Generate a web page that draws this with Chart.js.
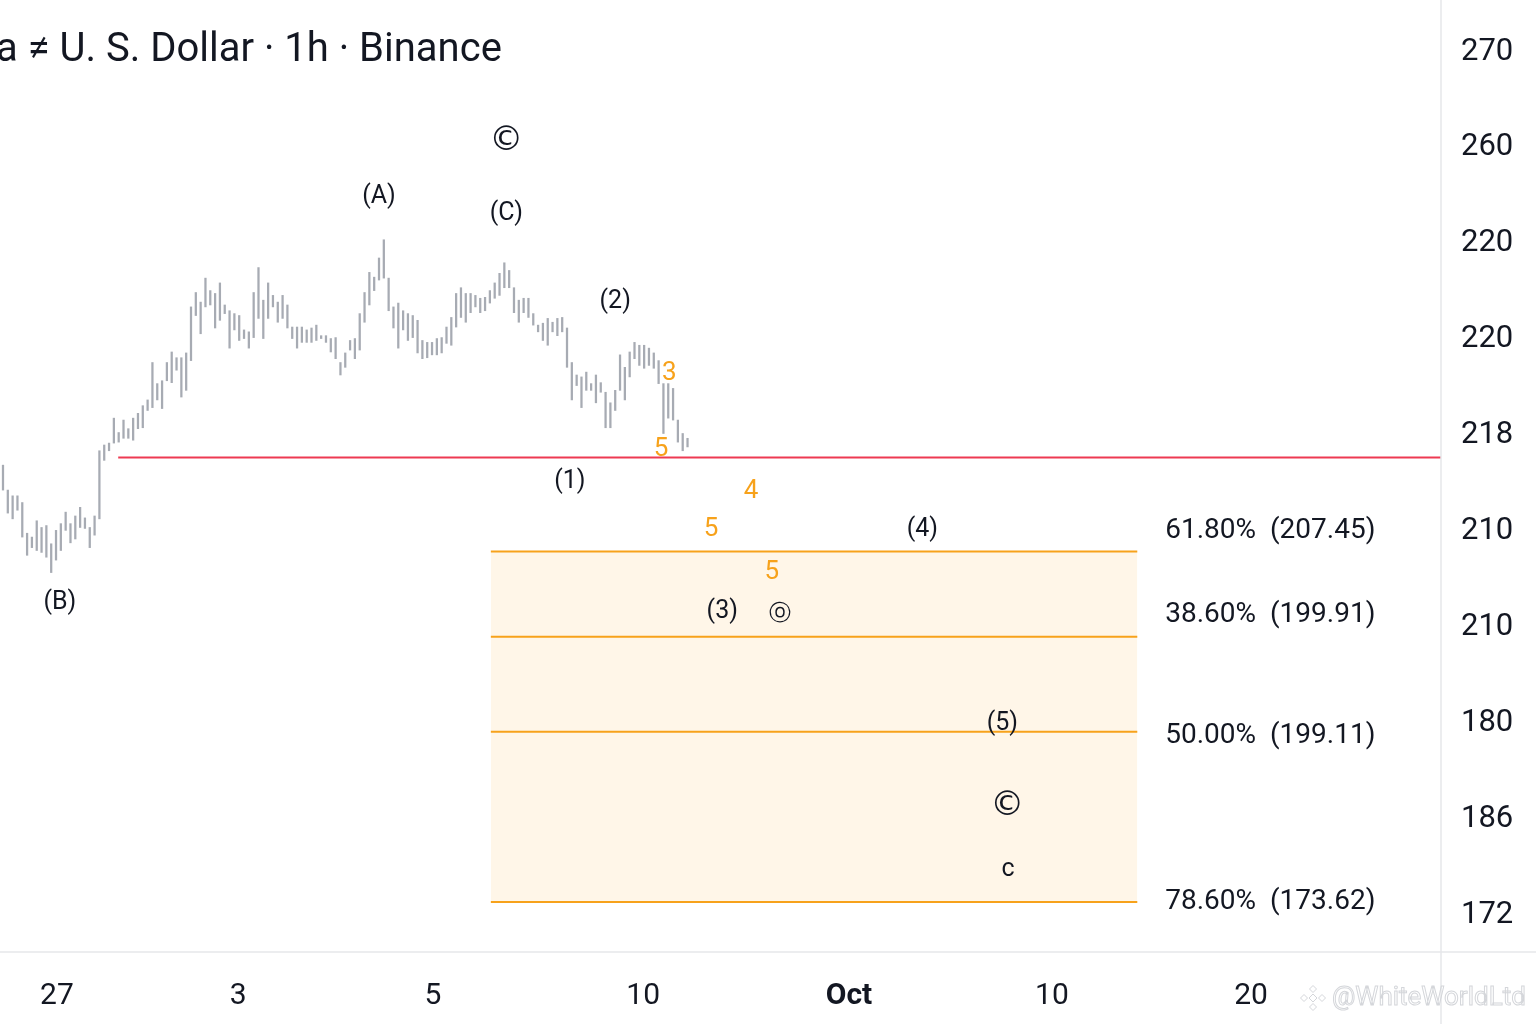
<!DOCTYPE html>
<html lang="en">
<head>
<meta charset="UTF-8">
<title>Elliott wave chart</title>
<style>
  html, body { margin: 0; padding: 0; background: #ffffff; }
  #wrap { width: 1536px; height: 1024px; }
</style>
</head>
<body>
<div id="wrap"><canvas id="chart" width="1536" height="1024"></canvas></div>
<script src="https://cdn.jsdelivr.net/npm/chart.js"></script>
<script>
// hourly bars, high / low (chart units, one tick step = 10)
const barHigh = [46.9,44.3,43.7,43.7,43.0,39.8,39.4,41.1,40.4,40.6,38.7,40.1,40.8,42.0,40.8,41.6,42.5,41.4,40.4,41.6,
  48.4,49.0,49.2,51.8,50.3,51.6,50.7,51.8,52.3,53.1,53.7,57.6,55.4,55.7,57.6,58.7,58.1,58.1,58.6,63.4,
  64.9,63.9,66.4,65.1,64.8,65.9,63.6,63.0,62.7,62.5,61.0,60.8,64.9,67.5,64.1,65.9,64.6,63.9,64.6,63.6,
  61.3,61.3,61.3,61.0,61.2,61.5,60.4,60.4,60.1,60.2,57.6,58.6,59.9,60.1,62.7,64.9,67.0,66.5,68.5,70.4,
  66.4,63.4,63.8,63.0,62.7,62.5,62.0,59.9,59.7,59.7,60.1,60.2,61.3,62.3,64.8,65.4,64.8,64.8,64.6,64.3,
  64.4,65.1,65.9,66.9,68.0,67.2,65.4,64.1,64.3,64.3,62.7,61.5,61.7,62.2,61.8,62.2,62.3,61.2,57.6,56.3,
  56.1,56.6,55.4,56.3,55.5,54.5,53.4,54.7,58.4,57.1,58.7,59.7,59.4,59.4,59.1,58.6,57.8,55.4,55.4,54.9,
  51.6,50.2,49.7];
const barLow = [44.3,41.9,41.3,42.2,39.4,37.5,38.3,38.0,37.8,37.3,35.7,37.0,38.0,40.1,38.8,39.2,40.4,40.3,38.3,39.6,
  41.3,47.4,48.4,49.2,49.3,49.7,49.7,49.5,50.7,50.8,52.6,52.9,53.7,52.8,55.7,55.5,56.8,54.0,54.7,57.8,
  62.5,60.6,63.4,63.6,61.2,62.0,62.7,59.1,61.0,59.9,60.1,59.1,60.2,62.2,60.1,62.2,63.4,61.8,62.2,61.2,
  60.1,59.1,59.7,59.7,59.7,59.9,60.1,59.7,58.7,58.0,56.3,57.1,58.9,58.0,58.9,61.8,63.6,65.1,66.2,66.4,
  63.0,61.2,59.1,61.0,59.9,60.2,58.6,58.0,58.1,58.4,58.4,58.6,59.6,59.4,61.3,62.3,61.8,62.8,63.4,62.8,
  63.0,63.8,64.3,64.6,65.4,65.4,62.8,61.8,62.8,62.3,61.5,60.8,59.9,59.4,60.8,60.4,60.8,57.1,53.7,55.2,
  52.9,54.7,54.7,53.4,54.5,50.8,50.8,52.6,54.7,53.7,56.1,58.0,57.3,57.0,57.3,57.0,55.4,50.2,51.8,51.6,
  49.3,48.4,48.8];

// axes
const yTickVals = [0, 10, 20, 30, 40, 50, 60, 70, 80, 90];
const yTickLabels = ['172', '186', '180', '210', '210', '218', '220', '220', '260', '270'];
const xTickVals = [11.2, 48.8, 89.2, 132.8, 175.5, 217.6, 258.9];
const xTickLabels = ['27', '3', '5', '10', 'Oct', '10', '20'];

// red support level
const supportLevel = 47.7;
const supportFrom = 23.9;

// fibonacci zone
const fibStart = 101.2;
const fibEnd = 235.3;
const fibLevels = [37.9, 29.0, 19.1, 1.36];
const fibPct = ['61.80%', '38.60%', '50.00%', '78.60%'];
const fibPrice = ['207.45', '199.91', '199.11', '173.62'];
const fibLabelY = [40.0, 31.3, 18.7, 1.3];
const fibLabelX = 241.1;

// wave labels
const waveText = ['(A)', '\u00A9', '(C)', '(B)', '(2)', '3', '5', '(1)', '4', '5', '(4)', '5', '(3)', '\u24DE', '(5)', '\u00A9', 'c'];
const waveX = [78.0, 104.4, 104.4, 11.8, 127.0, 138.2, 136.5, 117.6, 155.2, 146.9, 190.7, 159.5, 149.2, 161.2, 207.3, 208.3, 208.5];
const waveY = [74.9, 80.7, 73.1, 32.5, 63.9, 56.5, 48.5, 45.2, 44.1, 40.2, 40.2, 35.7, 31.6, 31.4, 19.9, 11.3, 4.7];
const waveOrange = [false, false, false, false, false, true, true, false, true, true, false, true, false, false, false, false, false];

const FONT = 'Roboto, "Noto Sans", sans-serif';
const INK = '#131722';
const ORANGE = '#f7a21b';

const bars = barHigh.map((h, i) => ({ x: i, y: [barLow[i], h] }));

const fibSets = fibLevels.map((lv, i) => ({
  type: 'line',
  data: [{ x: fibStart, y: lv }, { x: fibEnd, y: lv }],
  borderColor: ORANGE,
  borderWidth: 2,
  pointRadius: 0,
  fill: i === 0 ? { target: 2 + fibLevels.length - 1 } : false,
  backgroundColor: '#fff6e8',
  order: i === 0 ? 9 : 3
}));

const noPad = axis => {
  axis.paddingTop = 0;
  axis.paddingBottom = 0;
  axis.paddingLeft = 0;
  axis.paddingRight = 0;
};

const overlay = {
  id: 'overlay',
  afterDatasetsDraw(chart) {
    const { ctx, scales: { x, y } } = chart;
    ctx.save();
    ctx.textAlign = 'center';
    ctx.textBaseline = 'middle';
    waveText.forEach((t, i) => {
      let size = 25;
      let fam = FONT;
      if (t === '\u00A9') { size = 34; fam = '"DejaVu Sans", sans-serif'; }
      if (t === '\u24DE') { size = 22; fam = '"DejaVu Sans", sans-serif'; }
      if (waveOrange[i]) size = 26;
      ctx.font = size + 'px ' + fam;
      ctx.fillStyle = waveOrange[i] ? ORANGE : INK;
      ctx.fillText(t, x.getPixelForValue(waveX[i]), y.getPixelForValue(waveY[i]));
    });
    ctx.textAlign = 'left';
    ctx.font = '28px ' + FONT;
    ctx.fillStyle = INK;
    fibPct.forEach((p, i) => {
      ctx.fillText(p + '  (' + fibPrice[i] + ')', x.getPixelForValue(fibLabelX), y.getPixelForValue(fibLabelY[i]));
    });
    ctx.restore();
  },
  afterDraw(chart) {
    const { ctx, chartArea } = chart;
    ctx.save();
    // pane separators
    ctx.strokeStyle = '#e6e7ea';
    ctx.lineWidth = 1.5;
    ctx.beginPath();
    ctx.moveTo(0, chartArea.bottom + 1);
    ctx.lineTo(chart.width, chartArea.bottom + 1);
    ctx.moveTo(chartArea.right, 0);
    ctx.lineTo(chartArea.right, chart.height);
    ctx.stroke();
    // title
    ctx.fillStyle = INK;
    ctx.font = '40px ' + FONT;
    ctx.textBaseline = 'middle';
    ctx.textAlign = 'left';
    ctx.fillText('a \u2260 U. S. Dollar \u00B7 1h \u00B7 Binance', -4, 51);
    // watermark
    ctx.strokeStyle = '#d4d6da';
    ctx.lineWidth = 1;
    ctx.font = '26px ' + FONT;
    ctx.strokeText('@WhiteWorldLtd', 1332, 998);
    const cx = 1313, cy = 998;
    [[0, -9], [-9, 0], [9, 0], [0, 9], [0, 0]].forEach(([dx, dy]) => {
      const r = dx === 0 && dy === 0 ? 4 : 3.5;
      ctx.beginPath();
      ctx.moveTo(cx + dx, cy + dy - r);
      ctx.lineTo(cx + dx + r, cy + dy);
      ctx.lineTo(cx + dx, cy + dy + r);
      ctx.lineTo(cx + dx - r, cy + dy);
      ctx.closePath();
      ctx.stroke();
    });
    ctx.restore();
  }
};

new Chart(document.getElementById('chart'), {
  type: 'bar',
  data: {
    datasets: [
      {
        type: 'bar',
        data: bars,
        backgroundColor: '#a7abb3',
        barThickness: 1.6,
        grouped: false,
        order: 1
      },
      {
        type: 'line',
        data: [{ x: supportFrom, y: supportLevel }, { x: 400, y: supportLevel }],
        borderColor: '#ee3a52',
        borderWidth: 2,
        pointRadius: 0,
        order: 2
      },
      ...fibSets
    ]
  },
  options: {
    responsive: false,
    animation: false,
    devicePixelRatio: 1,
    layout: { padding: 0 },
    plugins: { legend: { display: false }, tooltip: { enabled: false }, title: { display: false } },
    scales: {
      x: {
        type: 'linear',
        offset: false,
        min: -0.62,
        max: 298.3,
        grid: { display: false, offset: false },
        border: { display: false },
        afterBuildTicks: axis => { axis.ticks = xTickVals.map(v => ({ value: v })); },
        afterFit: axis => { axis.height = 73; noPad(axis); },
        ticks: {
          padding: 19,
          color: INK,
          maxRotation: 0,
          autoSkip: false,
          font: ctx => ({ family: FONT, size: 30, weight: ctx.index === 4 ? 'bold' : 'normal' }),
          callback: (v, i) => xTickLabels[i]
        }
      },
      y: {
        type: 'linear',
        position: 'right',
        min: -3.76,
        max: 95.4,
        grid: { display: false },
        border: { display: false },
        afterBuildTicks: axis => { axis.ticks = yTickVals.map(v => ({ value: v })); },
        afterFit: axis => { axis.width = 95; noPad(axis); },
        ticks: {
          padding: 12,
          color: INK,
          font: { family: FONT, size: 31 },
          callback: (v, i) => yTickLabels[i]
        }
      }
    }
  },
  plugins: [overlay]
});
</script>
</body>
</html>
